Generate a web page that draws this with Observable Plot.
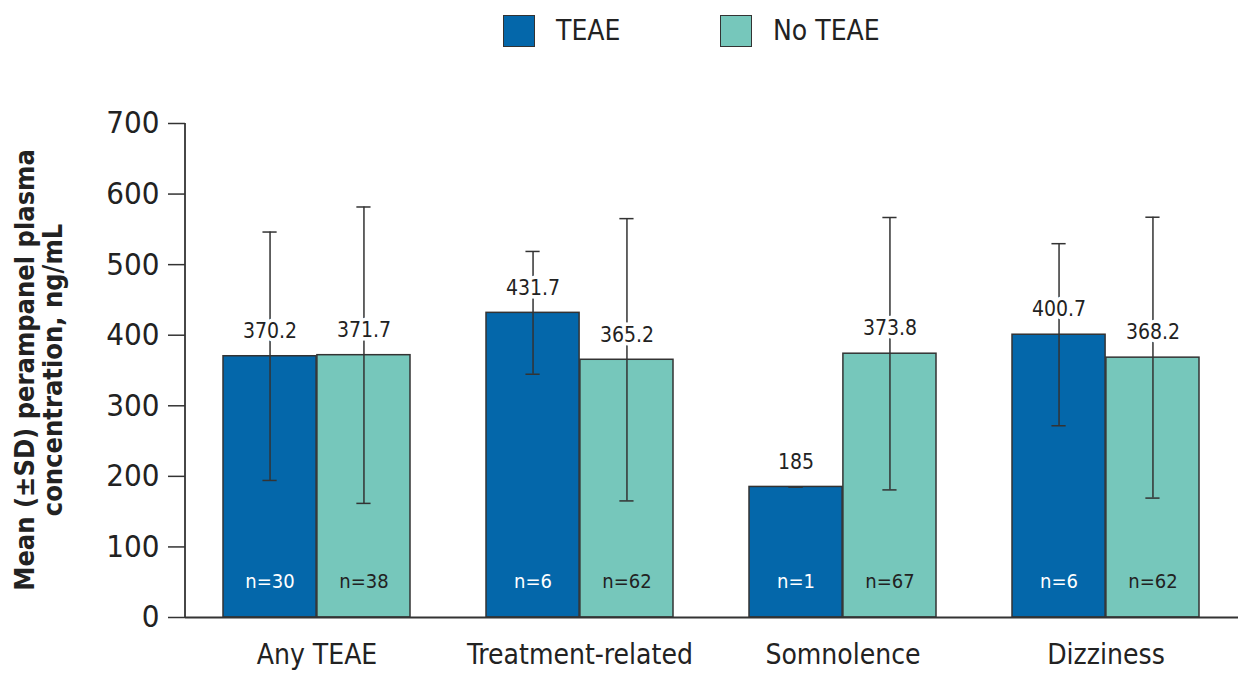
<!DOCTYPE html>
<html>
<head>
<meta charset="utf-8">
<script src="https://cdn.jsdelivr.net/npm/d3@7"></script>
<script src="https://cdn.jsdelivr.net/npm/@observablehq/plot@0.6"></script>
<style>
  html, body { margin: 0; padding: 0; background: #fff; }
  body { width: 1242px; height: 675px; overflow: hidden; font-family: "DejaVu Sans Condensed", "Liberation Sans", sans-serif; color: #222; }
  #legend { position: relative; height: 62px; }
  .item { position: absolute; top: 15px; display: flex; align-items: center; }
  .sw { width: 32px; height: 32px; border: 1.5px solid #333; box-sizing: border-box; }
  .lab { font-size: 28px; margin-left: 21px; line-height: 32px; }
  svg { display: block; }
</style>
</head>
<body>
<div id="legend"></div>
<div id="chart"></div>
<script>
const categories = ["Any TEAE", "Treatment-related", "Somnolence", "Dizziness"];
const series = ["TEAE", "No TEAE"];
const seriesColors = ["#0467aa", "#76c7bb"];
const teaeMean = [370.2, 431.7, 185, 400.7];
const teaeSD = [176, 87, 0, 129];
const teaeN = [30, 6, 1, 6];
const noTeaeMean = [371.7, 365.2, 373.8, 368.2];
const noTeaeSD = [210, 200, 193, 199];
const noTeaeN = [38, 62, 67, 62];
const meanLabels = [["370.2", "371.7"], ["431.7", "365.2"], ["185", "373.8"], ["400.7", "368.2"]];
const yTicks = [0, 100, 200, 300, 400, 500, 600, 700];
const yLabelLines = ["Mean (\u00B1SD) perampanel plasma", "concentration, ng/mL"];

const data = [];
categories.forEach((c, i) => {
  data.push({cat: c, series: series[0], mean: teaeMean[i], sd: teaeSD[i], n: teaeN[i], label: meanLabels[i][0]});
  data.push({cat: c, series: series[1], mean: noTeaeMean[i], sd: noTeaeSD[i], n: noTeaeN[i], label: meanLabels[i][1]});
});
const teae = data.filter(d => d.series === series[0]);
const noTeae = data.filter(d => d.series === series[1]);

// legend
const legend = document.getElementById("legend");
const legendLeft = [503, 720];
series.forEach((s, i) => {
  const it = document.createElement("div");
  it.className = "item";
  it.style.left = legendLeft[i] + "px";
  const sw = document.createElement("div");
  sw.className = "sw";
  sw.style.background = seriesColors[i];
  const lab = document.createElement("span");
  lab.className = "lab";
  lab.textContent = s;
  it.appendChild(sw); it.appendChild(lab);
  legend.appendChild(it);
});

const font = '"DejaVu Sans Condensed", "Liberation Sans", sans-serif';
const dark = "#333";
const W = 1242, mL = 185, mR = 4;
const xOpts = {domain: categories, paddingInner: 0.288, paddingOuter: 0.14};
const xs = Plot.scale({x: {type: "band", ...xOpts, range: [mL, W - mR]}});
const bw = xs.bandwidth;          // width of one category group
const half = bw / 2;              // width of one bar
const cap = 15;                   // error-bar cap width
const sw = 1.5;

function barMarks(rows, side) {
  const inL = side < 0 ? 0 : half, inR = side < 0 ? half : 0;
  return [
    Plot.barY(rows, {x: "cat", y: "mean", fill: "series", stroke: dark, strokeWidth: sw, insetLeft: inL, insetRight: inR})
  ];
}
function errorMarks(rows, side, textFill) {
  const off = side * bw / 4;
  const capL = side < 0 ? bw / 4 - cap / 2 : 3 * bw / 4 - cap / 2;
  const capR = bw - capL - cap;
  return [
    Plot.ruleX(rows, {x: "cat", y1: d => d.mean - d.sd, y2: d => d.mean + d.sd, dx: off, stroke: dark, strokeWidth: sw}),
    Plot.tickY(rows, {x: "cat", y: d => d.mean - d.sd, insetLeft: capL, insetRight: capR, stroke: dark, strokeWidth: sw}),
    Plot.tickY(rows, {x: "cat", y: d => d.mean + d.sd, insetLeft: capL, insetRight: capR, stroke: dark, strokeWidth: sw}),
    Plot.text(rows, {x: "cat", y: "mean", text: "label", dx: off, dy: -25, fontSize: 21, fill: "#222", stroke: "white", strokeWidth: 7}),
    Plot.text(rows, {x: "cat", y: () => 0, text: d => "n=" + d.n, dx: off, dy: -36, fontSize: 20, fill: textFill})
  ];
}

const plot = Plot.plot({
  width: W,
  height: 613,
  marginLeft: mL,
  marginRight: mR,
  marginTop: 61,
  marginBottom: 58,
  style: {fontFamily: font, color: "#222", background: "white"},
  x: {...xOpts, label: null},
  y: {domain: [0, 700], label: null},
  color: {domain: series, range: seriesColors},
  marks: [
    ...barMarks(teae, -1),
    ...barMarks(noTeae, 1),
    ...errorMarks(teae, -1, "white"),
    ...errorMarks(noTeae, 1, "#222"),
    Plot.ruleY([0], {stroke: dark, strokeWidth: 1.8}),
    Plot.axisY({ticks: yTicks, tickSize: 17, tickPadding: 9, fontSize: 31, stroke: dark, strokeWidth: 1.5, label: null}),
    Plot.axisX({tickSize: 0, tickPadding: 27, fontSize: 28, label: null})
  ]
});

document.getElementById("chart").appendChild(plot);

// vertical axis line and y label, positioned with Plot's own y scale
const y = plot.scale("y");
const svg = d3.select(plot);
const y0 = y.apply(0), y700 = y.apply(700);
svg.append("line").attr("x1", mL).attr("x2", mL).attr("y1", y700).attr("y2", y0)
  .attr("stroke", dark).attr("stroke-width", 1.8);
const yl = svg.append("text")
  .attr("transform", `translate(40,${(y0 + y700) / 2}) rotate(-90)`)
  .attr("text-anchor", "middle")
  .attr("font-family", font)
  .attr("font-weight", "bold")
  .attr("font-size", 27)
  .attr("fill", "#222");
yl.append("tspan").attr("x", 0).attr("y", -6).text(yLabelLines[0]);
yl.append("tspan").attr("x", 0).attr("y", 22).text(yLabelLines[1]);
</script>
</body>
</html>
